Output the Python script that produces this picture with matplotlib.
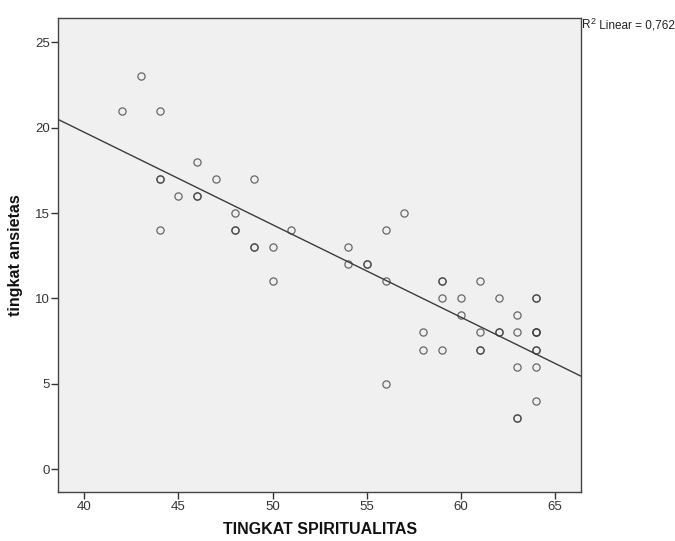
import matplotlib
matplotlib.use("Agg")
import matplotlib.pyplot as plt
from matplotlib import transforms
import numpy as np

plt.rcParams['font.family'] = ['Liberation Sans', 'DejaVu Sans']

# TINGKAT SPIRITUALITAS (x) vs tingkat ansietas (y)
spiritualitas = [42, 43, 44, 44, 44, 44, 45, 46, 46, 46, 47, 48, 48, 48,
                 49, 49, 49, 50, 50, 51, 54, 54, 55, 55, 56, 56, 56, 57,
                 58, 58, 59, 59, 59, 59, 60, 60, 61, 61, 61, 61, 62, 62,
                 62, 63, 63, 63, 63, 63, 64, 64, 64, 64, 64, 64, 64, 64, 64]
ansietas = [21, 23, 21, 17, 17, 14, 16, 18, 16, 16, 17, 15, 14, 14,
            17, 13, 13, 13, 11, 14, 13, 12, 12, 12, 14, 11, 5, 15,
            8, 7, 11, 11, 10, 7, 10, 9, 11, 8, 7, 7, 10, 8,
            8, 9, 8, 6, 3, 3, 10, 10, 8, 8, 8, 7, 7, 6, 4]

x_ticks = [40, 45, 50, 55, 60, 65]
y_ticks = [0, 5, 10, 15, 20, 25]
r2_value = "0,762"

x = np.array(spiritualitas, dtype=float)
y = np.array(ansietas, dtype=float)

fig = plt.figure(figsize=(6.75, 5.41), dpi=100)
ax = fig.add_axes([0.0864, 0.0911, 0.7744, 0.8751])
ax.set_facecolor('#f0f0f0')

xlim = (38.62, 66.38)
ylim = (-1.33, 26.41)

# fit line
slope, icept = np.polyfit(x, y, 1)
xl = np.array(xlim)
ax.plot(xl, icept + slope * xl, color='#3c3c3c', lw=1.0, zorder=2)

ax.plot(x, y, 'o', ms=5.2, mfc='none', mec='#3a3a3a', mew=0.9,
        alpha=0.75, zorder=3)

ax.set_xlim(xlim)
ax.set_ylim(ylim)
ax.set_xticks(x_ticks)
ax.set_yticks(y_ticks)
ax.tick_params(direction='out', length=5, width=1, colors='#333333',
               labelsize=9.5, pad=1.5)
ax.tick_params(axis='y', pad=1)
for s in ax.spines.values():
    s.set_color('#444444')
    s.set_linewidth(1.0)

ax.set_xlabel('TINGKAT SPIRITUALITAS', fontsize=11.5, fontweight='bold',
              color='#111111', labelpad=7)
ax.set_ylabel('tingkat ansietas', fontsize=11.5, fontweight='bold',
              color='#111111', labelpad=9)

# R² label, built from pieces so the superscript is big enough
t = ax.text(1.002, 0.985, "R", transform=ax.transAxes, fontsize=8.5,
            ha='left', va='center', color='#222222')
fig.canvas.draw()
ex = t.get_window_extent()
t2 = ax.text(0, 0, "2", fontsize=6.5, color='#222222', ha='left',
             va='center',
             transform=transforms.offset_copy(ax.transAxes, fig=fig,
                                              x=ex.width * 72 / fig.dpi,
                                              y=3.0, units='points')
             )
t2.set_position((1.002, 0.985))
fig.canvas.draw()
ex2 = t2.get_window_extent()
ax.text(1.002, 0.985, " Linear = " + r2_value, fontsize=8.5,
        color='#222222', ha='left', va='center',
        transform=transforms.offset_copy(ax.transAxes, fig=fig,
                                         x=(ex.width + ex2.width) * 72 / fig.dpi,
                                         y=0, units='points'))

fig.savefig('out.png', dpi=100, facecolor='white')
